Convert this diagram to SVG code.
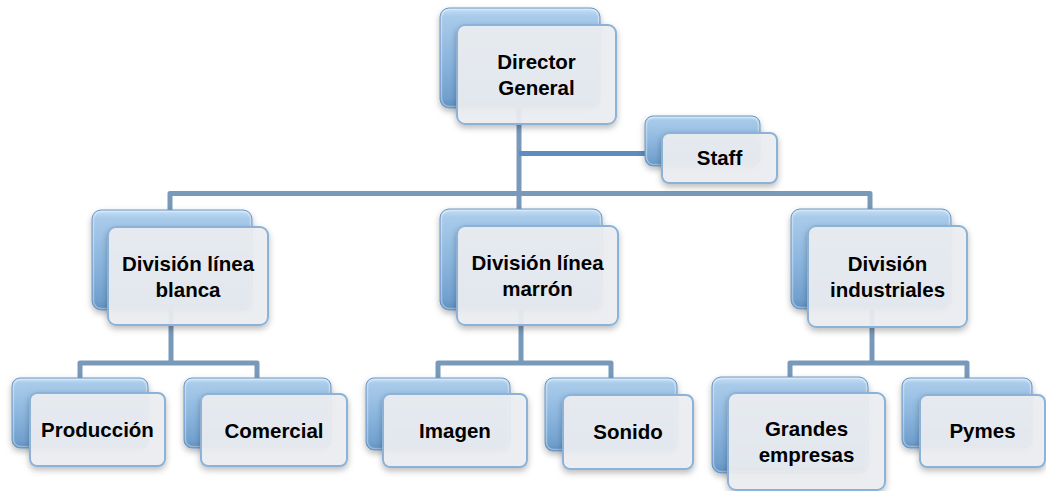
<svg xmlns="http://www.w3.org/2000/svg" width="1046" height="491" viewBox="0 0 1046 491">
  <defs>
    <linearGradient id="backFill" x1="0" y1="0" x2="0" y2="1">
      <stop offset="0" stop-color="#c6e0f5"/>
      <stop offset="0.08" stop-color="#a9cbea"/>
      <stop offset="0.5" stop-color="#8db7df"/>
      <stop offset="0.9" stop-color="#71a0ce"/>
      <stop offset="1" stop-color="#5f8dbc"/>
    </linearGradient>
    <filter id="shadow" x="-10%" y="-10%" width="120%" height="130%">
      <feDropShadow dx="0" dy="3" stdDeviation="3" flood-color="#000" flood-opacity="0.28"/>
    </filter>
  </defs>
  <style>
    .back { fill: url(#backFill); stroke: #6a96c3; stroke-width: 1; filter: url(#shadow); }
    .rim { fill: none; stroke: #ffffff; stroke-opacity: 0.35; stroke-width: 1.5; }
    .front { fill: #edeff2; fill-opacity: 0.92; stroke: #8db2d7; stroke-width: 2; filter: url(#shadow); }
    .lbl { font-family: "Liberation Sans", Arial, sans-serif; font-weight: bold; font-size: 20.5px; fill: #000; text-anchor: middle; }
    .link { fill: none; stroke: #7899ba; stroke-width: 5; stroke-linejoin: round; }
    .staff-link { fill: none; stroke: #5b8dc0; stroke-width: 5; }
  </style>

  <rect width="1046" height="491" fill="#ffffff"/>

  <!-- connectors -->
  <g id="connectors">
    <path class="link" d="M519,108 V209"/>
    <path class="staff-link" d="M519,153.5 H646"/>
    <path class="link" d="M170,210 V193.5 H870 V209"/>
    <path class="link" d="M171,310 V363"/>
    <path class="link" d="M80,378 V363 H257 V378"/>
    <path class="link" d="M521,310 V363"/>
    <path class="link" d="M438,378 V363 H611 V378"/>
    <path class="link" d="M872,309 V363"/>
    <path class="link" d="M790,377 V363 H967 V378"/>
  </g>

  <!-- nodes: glossy back card, translucent front card, label -->
  <g id="director-general">
    <rect class="back" x="440" y="8" width="160" height="100" rx="9"/>
    <rect class="rim" x="441.5" y="9.5" width="157" height="97" rx="8"/>
    <rect class="front" x="457" y="25" width="159" height="99" rx="8"/>
    <text class="lbl" x="536.5" y="69">Director</text>
    <text class="lbl" x="536.5" y="95">General</text>
  </g>

  <g id="staff">
    <rect class="back" x="645" y="116" width="115" height="50" rx="8"/>
    <rect class="rim" x="646.5" y="117.5" width="112" height="47" rx="7"/>
    <rect class="front" x="662" y="133" width="115" height="50" rx="7"/>
    <text class="lbl" x="719.5" y="165">Staff</text>
  </g>

  <g id="division-linea-blanca">
    <rect class="back" x="92" y="210" width="160" height="100" rx="9"/>
    <rect class="rim" x="93.5" y="211.5" width="157" height="97" rx="8"/>
    <rect class="front" x="108" y="227" width="160" height="98" rx="8"/>
    <text class="lbl" x="188" y="270.5">División línea</text>
    <text class="lbl" x="188" y="296.5">blanca</text>
  </g>

  <g id="division-linea-marron">
    <rect class="back" x="440" y="209" width="162" height="101" rx="9"/>
    <rect class="rim" x="441.5" y="210.5" width="159" height="98" rx="8"/>
    <rect class="front" x="457" y="226" width="161" height="99" rx="8"/>
    <text class="lbl" x="537.5" y="270">División línea</text>
    <text class="lbl" x="537.5" y="296">marrón</text>
  </g>

  <g id="division-industriales">
    <rect class="back" x="791" y="209" width="160" height="100" rx="9"/>
    <rect class="rim" x="792.5" y="210.5" width="157" height="97" rx="8"/>
    <rect class="front" x="808" y="226" width="159" height="101" rx="8"/>
    <text class="lbl" x="887.5" y="271">División</text>
    <text class="lbl" x="887.5" y="297">industriales</text>
  </g>

  <g id="produccion">
    <rect class="back" x="12" y="378" width="136" height="70" rx="8"/>
    <rect class="rim" x="13.5" y="379.5" width="133" height="67" rx="7"/>
    <rect class="front" x="30" y="393" width="135" height="73" rx="7"/>
    <text class="lbl" x="97.5" y="437">Producción</text>
  </g>

  <g id="comercial">
    <rect class="back" x="184" y="378" width="147" height="70" rx="8"/>
    <rect class="rim" x="185.5" y="379.5" width="144" height="67" rx="7"/>
    <rect class="front" x="201" y="394" width="146" height="72" rx="7"/>
    <text class="lbl" x="274" y="437.5">Comercial</text>
  </g>

  <g id="imagen">
    <rect class="back" x="366" y="378" width="144" height="72" rx="8"/>
    <rect class="rim" x="367.5" y="379.5" width="141" height="69" rx="7"/>
    <rect class="front" x="383" y="394" width="144" height="73" rx="7"/>
    <text class="lbl" x="455" y="438">Imagen</text>
  </g>

  <g id="sonido">
    <rect class="back" x="545" y="378" width="132" height="73" rx="8"/>
    <rect class="rim" x="546.5" y="379.5" width="129" height="70" rx="7"/>
    <rect class="front" x="563" y="395" width="130" height="74" rx="7"/>
    <text class="lbl" x="628" y="439">Sonido</text>
  </g>

  <g id="grandes-empresas">
    <rect class="back" x="712" y="377" width="156" height="96" rx="9"/>
    <rect class="rim" x="713.5" y="378.5" width="153" height="93" rx="8"/>
    <rect class="front" x="728" y="393" width="157" height="97" rx="8"/>
    <text class="lbl" x="806.5" y="436">Grandes</text>
    <text class="lbl" x="806.5" y="462">empresas</text>
  </g>

  <g id="pymes">
    <rect class="back" x="902" y="378" width="130" height="70" rx="8"/>
    <rect class="rim" x="903.5" y="379.5" width="127" height="67" rx="7"/>
    <rect class="front" x="920" y="395" width="125" height="72" rx="7"/>
    <text class="lbl" x="982.5" y="438">Pymes</text>
  </g>
</svg>
